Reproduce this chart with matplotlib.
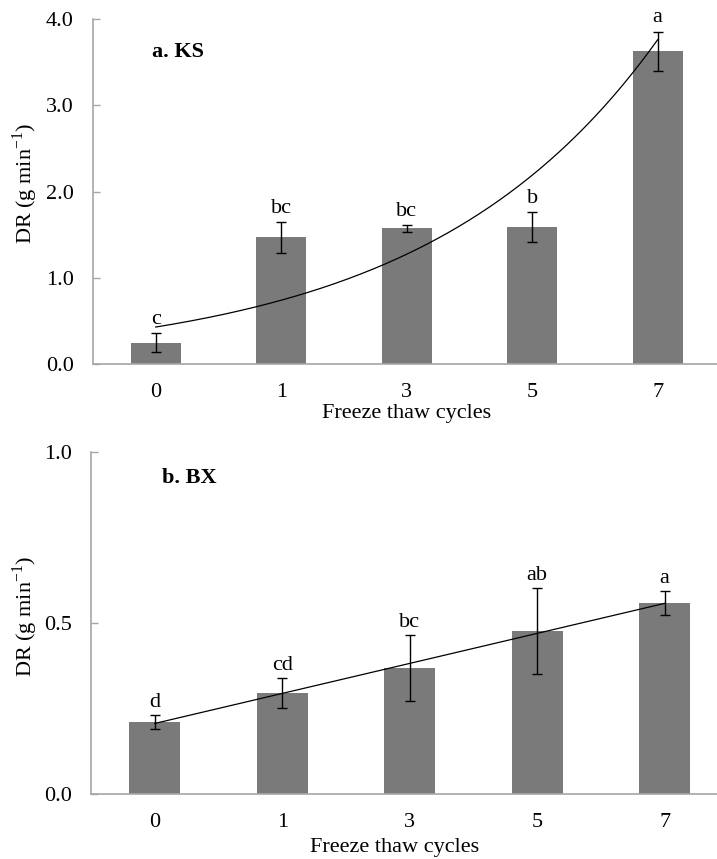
import numpy as np
import matplotlib
matplotlib.use("Agg")
import matplotlib.pyplot as plt

plt.rcParams["font.family"] = ["Liberation Serif", "DejaVu Serif"]
plt.rcParams["mathtext.fontset"] = "custom"
plt.rcParams["mathtext.rm"] = "Liberation Serif"

cycles = ["0", "1", "3", "5", "7"]

ks_dr = [0.253, 1.474, 1.578, 1.59, 3.625]
ks_err = [0.11, 0.18, 0.04, 0.17, 0.23]
ks_letters = ["c", "bc", "bc", "b", "a"]

bx_dr = [0.21, 0.295, 0.369, 0.477, 0.558]
bx_err = [0.02, 0.045, 0.096, 0.125, 0.036]
bx_letters = ["d", "cd", "bc", "ab", "a"]

fig = plt.figure(figsize=(7.17, 8.59), dpi=100)

axis_grey = "#a6a6a6"
bar_grey = "#7a7a7a"
fs = 16


def panel(rect, values, errors, letters, ylim, yticks, title, trend,
          title_xy, letter_pad, xlabel_xy, ylabel_xy, xpad):
    ax = fig.add_axes(rect)
    x = np.arange(len(cycles))
    ax.bar(x, values, width=0.4, color=bar_grey, zorder=2)
    ax.errorbar(x, values, yerr=errors, fmt="none", ecolor="black",
                elinewidth=1.0, capsize=3.6, capthick=1.0, zorder=3)
    # trend line fitted on cycle index 1..n, as in the spreadsheet trendline
    idx = x + 1
    xs = np.linspace(0, len(cycles) - 1, 200)
    if trend == "exp":
        b, a = np.polyfit(idx, np.log(values), 1)
        ys = np.exp(a) * np.exp(b * (xs + 1))
    else:
        b, a = np.polyfit(idx, values, 1)
        ys = a + b * (xs + 1)
    ax.plot(xs, ys, color="black", lw=0.9, zorder=4)
    for xi, v, e, lab in zip(x, values, errors, letters):
        ax.annotate(lab, (xi, v + e), xytext=(0, letter_pad),
                    textcoords="offset points", ha="center", va="baseline",
                    fontsize=fs)
    ax.set_xlim(-0.5, 4.5)
    ax.set_ylim(*ylim)
    ax.set_yticks(yticks)
    ax.set_yticklabels([f"{t:.1f}" for t in yticks], fontsize=fs)
    ax.set_xticks(x)
    ax.set_xticklabels(cycles, fontsize=fs)
    ax.tick_params(axis="x", length=0, pad=xpad)
    ax.tick_params(axis="y", direction="in", length=5, color=axis_grey,
                   width=1, pad=14)
    for s in ("top", "right"):
        ax.spines[s].set_visible(False)
    for s in ("left", "bottom"):
        ax.spines[s].set_color(axis_grey)
        ax.spines[s].set_linewidth(1.2)
    ax.set_xlabel("Freeze thaw cycles", fontsize=fs)
    ax.xaxis.set_label_coords(*xlabel_xy)
    ax.set_ylabel(r"DR (g min$^{\mathregular{-1}}$)", fontsize=fs)
    ax.yaxis.set_label_coords(*ylabel_xy)
    ax.text(title_xy[0], title_xy[1], title, transform=ax.transAxes,
            fontsize=fs, fontweight="bold", ha="left", va="center")
    return ax


panel([0.1297, 0.5757, 0.875, 0.4022], ks_dr, ks_err, ks_letters,
      (0, 4.0), [0.0, 1.0, 2.0, 3.0, 4.0], "a. KS", "exp",
      (0.094, 0.904), 6.5, (0.5, -0.113), (-0.085, 0.525), 13)
panel([0.1269, 0.0757, 0.889, 0.3981], bx_dr, bx_err, bx_letters,
      (0, 1.0), [0.0, 0.5, 1.0], "b. BX", "lin",
      (0.111, 0.924), 5.8, (0.477, -0.13), (-0.08, 0.52), 14)

fig.savefig("out.png", dpi=100)
